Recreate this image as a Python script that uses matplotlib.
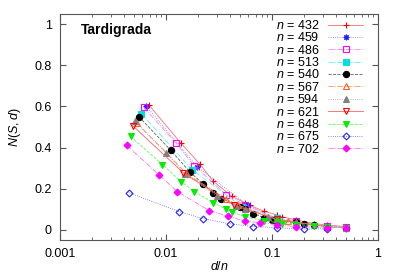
import numpy as np
import matplotlib
matplotlib.use('Agg')
import matplotlib.pyplot as plt

plt.rcParams['font.family'] = ['Liberation Sans', 'DejaVu Sans']
plt.rcParams['mathtext.fontset'] = 'custom'
plt.rcParams['mathtext.it'] = 'Liberation Sans:italic'
plt.rcParams['mathtext.rm'] = 'Liberation Sans'

# system sizes n and, for each, the divisors d used and the measured N(S,d)
n_values = [432, 459, 486, 513, 540, 567, 594, 621, 648, 675, 702]

d_432 = [3, 6, 9, 12, 18, 24, 27, 36, 48, 54, 72, 108, 144, 216]
y_432 = [.605, .42, .32, .237, .163, .13, .118, .09, .072, .063, .048, .03, .022, .015]
d_459 = [3, 9, 27, 51, 153]
y_459 = [.60, .307, .12, .05, .015]
d_486 = [3, 6, 9, 18, 27, 54, 81, 162, 243]
y_486 = [.595, .424, .31, .17, .12, .055, .04, .02, .012]
d_513 = [3, 9, 27, 57, 171]
y_513 = [.565, .293, .11, .058, .015]
d_540 = [3, 6, 9, 12, 15, 18, 27, 30, 36, 45, 54, 60, 90, 108, 135, 180, 270]
y_540 = [.55, .386, .283, .224, .18, .151, .112, .1, .078, .059, .049, .042, .035, .03, .022, .015, .01]
d_567 = [3, 9, 21, 27, 63, 81, 189]
y_567 = [.52, .27, .15, .12, .05, .04, .015]
d_594 = [3, 6, 9, 18, 27, 33, 54, 66, 99, 198, 297]
y_594 = [.527, .375, .27, .165, .115, .1, .06, .05, .035, .015, .01]
d_621 = [3, 9, 27, 69, 207]
y_621 = [.507, .278, .12, .05, .015]
d_648 = [3, 6, 9, 12, 18, 24, 27, 36, 54, 72, 81, 108, 162, 216, 324]
y_648 = [.454, .317, .234, .185, .132, .1, .088, .063, .044, .035, .03, .025, .02, .015, .01]
d_675 = [3, 9, 15, 27, 45, 75, 135, 225]
y_675 = [.18, .088, .054, .029, .015, .01, .003, .005]
d_702 = [3, 6, 9, 18, 27, 39, 54, 78, 117, 234, 351]
y_702 = [.41, .268, .185, .093, .065, .042, .034, .025, .015, .01, .01]

series = [(d_432, y_432), (d_459, y_459), (d_486, y_486), (d_513, y_513),
          (d_540, y_540), (d_567, y_567), (d_594, y_594), (d_621, y_621),
          (d_648, y_648), (d_675, y_675), (d_702, y_702)]

# (marker colour, line colour, linestyle, marker, filled)
styles = [
    ('#ff0000', '#ff7070', '-', '+', False),
    ('#2020ff', '#7070ff', ':', (8, 2, 0), False),
    ('#ff00ff', '#ff80ff', '-.', 's', False),
    ('#00e0e0', '#60f0f0', '-.', 's', True),
    ('#000000', '#606060', '--', 'o', True),
    ('#ff6020', '#ff9060', '-.', '^', False),
    ('#808080', '#a0a0a0', ':', '^', True),
    ('#ff0000', '#ff6060', '-', 'v', False),
    ('#00ee00', '#60ff60', '--', 'v', True),
    ('#2020ff', '#6060ff', ':', 'D', False),
    ('#ff00ff', '#ff70ff', '-.', 'D', True),
]

fig = plt.figure(figsize=(4, 2.8), dpi=100)
ax = fig.add_axes([0.15, 0.143, 0.795, 0.807])

for n, (d, y), (mc, lc, ls, mk, filled) in zip(n_values, series, styles):
    x = np.array(d) / n
    ms = 4 if mk not in ('+', 'o') else (5 if mk == '+' else 4.5)
    if mk == 'D':
        ms = 3.5
    ax.plot(x, y, color=lc, ls=ls, lw=0.6, marker=mk, ms=ms,
            mec=mc, mfc=mc if filled else 'none', mew=0.8,
            label='$n$ = %d' % n)

ax.set_xscale('log')
ax.set_xlim(0.001, 1)
ax.set_ylim(-0.05, 1.05)
ax.set_yticks([0, 0.2, 0.4, 0.6, 0.8, 1])
ax.set_yticklabels(['0', '0.2', '0.4', '0.6', '0.8', '1'])
ax.set_xticks([0.001, 0.01, 0.1, 1])
ax.set_xticklabels(['0.001', '0.01', '0.1', '1'])
ax.tick_params(which='both', direction='in', top=True, right=True,
               labelsize=9, color='#555555')
ax.tick_params(which='major', length=4, pad=6)
ax.tick_params(which='minor', length=2)
for s in ax.spines.values():
    s.set_color('#555555')

ax.set_xlabel('$d/n$', fontsize=9, labelpad=-0.5)
ax.set_ylabel('$N(S,d)$', fontsize=9, labelpad=8)
ax.text(0.065, 0.93, 'Tardigrada', transform=ax.transAxes, fontsize=10,
        fontweight='bold', va='center')

ax.legend(loc='upper right', bbox_to_anchor=(0.953, 0.978), frameon=False,
          fontsize=9, markerfirst=False, handlelength=2.8,
          labelspacing=-0.05, borderaxespad=0, borderpad=0,
          handletextpad=0.7)

fig.savefig('out.png', dpi=100)
